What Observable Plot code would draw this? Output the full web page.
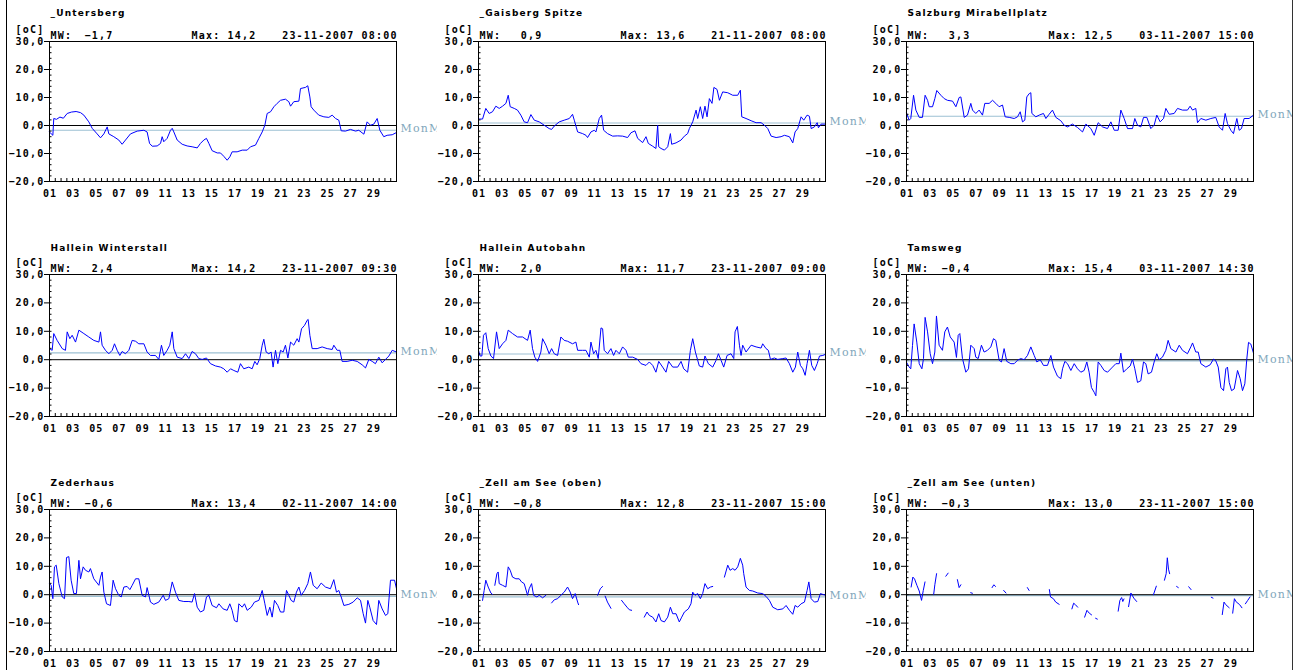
<!DOCTYPE html>
<html><head><meta charset="utf-8">
<script src="https://cdn.jsdelivr.net/npm/d3@7"></script>
<script src="https://cdn.jsdelivr.net/npm/@observablehq/plot@0.6"></script>
<style>
html,body{margin:0;padding:0;background:#fff;width:1299px;height:670px;overflow:hidden;}
#chart{position:relative;width:1299px;height:670px;}
#border{position:absolute;left:6px;top:0;width:1285px;height:670px;border-left:1.5px solid #000;border-right:1.5px solid #333;pointer-events:none;}
</style></head><body><div id="chart"></div><div id="border"></div><script>
// ---- station metadata ----
const stations = ["_Untersberg","_Gaisberg Spitze","Salzburg Mirabellplatz","Hallein Winterstall","Hallein Autobahn","Tamsweg","Zederhaus","_Zell am See (oben)","_Zell am See (unten)"];
const monthlyMeans = [-1.7, 0.9, 3.3, 2.4, 2.0, -0.4, -0.6, -0.8, -0.3];
const maxValues = [14.2, 13.6, 12.5, 14.2, 11.7, 15.4, 13.4, 12.8, 13.0];
const maxTimes = ["23-11-2007 08:00","21-11-2007 08:00","03-11-2007 15:00","23-11-2007 09:30","23-11-2007 09:00","03-11-2007 14:30","02-11-2007 14:00","23-11-2007 15:00","23-11-2007 15:00"];
const dayTickValues = [1,3,5,7,9,11,13,15,17,19,21,23,25,27,29];
const yTickValues = [-20,-10,0,10,20,30];
const meanLabel = "MonM";

// ---- temperature series: [day of November (fractional), °C] ----
const untersberg = [[1.00,-2.3],[1.15,-3.0],[1.29,-3.5],[1.37,2.5],[1.6,2.2],[1.9,3.0],[2.2,2.6],[2.53,4.3],[2.9,4.8],[3.3,5.0],[3.68,4.6],[3.97,3.7],[4.4,1.3],[4.69,-1.0],[5.12,-3.0],[5.41,-4.4],[5.7,-3.0],[5.99,-0.5],[6.13,-3.0],[6.56,-4.0],[6.99,-5.2],[7.28,-6.7],[7.57,-5.2],[8.0,-3.0],[8.58,-2.0],[9.16,-1.7],[9.44,-2.3],[9.65,-6.4],[9.88,-7.4],[10.31,-7.3],[10.6,-6.4],[10.74,-4.0],[10.88,-5.8],[11.17,-4.6],[11.46,-1.7],[11.61,-1.0],[11.75,-2.3],[12.04,-5.2],[12.47,-6.7],[12.9,-7.3],[13.33,-7.6],[13.77,-8.0],[14.05,-6.4],[14.34,-5.2],[14.57,-4.6],[14.78,-6.4],[15.06,-9.0],[15.5,-9.8],[15.78,-9.8],[16.07,-11.0],[16.36,-12.4],[16.59,-11.2],[16.79,-9.4],[17.22,-9.4],[17.66,-8.8],[18.09,-8.8],[18.38,-7.6],[18.81,-7.0],[19.1,-4.6],[19.39,-2.3],[19.62,0.1],[19.82,4.3],[20.11,4.9],[20.4,6.7],[20.68,7.9],[20.97,9.0],[21.4,9.4],[21.69,8.5],[21.84,6.9],[22.12,8.5],[22.56,8.7],[22.7,13.2],[23.13,13.6],[23.33,14.2],[23.51,10.2],[23.62,6.7],[23.85,5.5],[24.28,3.7],[24.72,3.1],[25.15,2.9],[25.44,3.7],[25.73,2.5],[26.01,1.9],[26.22,-1.9],[26.59,-2.0],[27.02,-1.4],[27.46,-2.0],[27.74,-1.7],[28.18,-3.1],[28.46,1.3],[28.75,0.1],[29.04,0.5],[29.33,2.5],[29.56,-1.7],[29.9,-4.0],[30.19,-3.5],[30.63,-3.3],[31.0,-2.5]];
const gaisberg = [[1.0,2.3],[1.35,2.3],[1.63,6.1],[1.92,4.3],[2.21,4.9],[2.5,6.9],[2.79,6.1],[3.08,6.9],[3.37,7.9],[3.57,10.8],[3.74,6.7],[4.09,6.1],[4.37,5.5],[4.66,3.7],[4.95,1.3],[5.24,1.0],[5.53,3.9],[5.82,1.9],[6.25,1.3],[6.68,0.1],[7.11,-1.1],[7.32,-1.4],[7.55,-0.2],[7.98,1.3],[8.41,1.9],[8.85,2.5],[9.13,4.0],[9.28,1.9],[9.57,-2.3],[10.0,-2.9],[10.29,-3.5],[10.43,-4.3],[10.72,-2.3],[11.01,-1.7],[11.15,-2.3],[11.44,2.5],[11.64,3.7],[11.82,-1.7],[12.16,-2.9],[12.6,-3.8],[13.03,-3.7],[13.46,-3.8],[13.89,-4.3],[14.18,-2.6],[14.53,-1.9],[14.76,-4.6],[15.19,-6.1],[15.48,-4.0],[15.68,-6.4],[16.06,-7.4],[16.34,-8.2],[16.49,0.1],[16.58,-7.6],[16.78,-8.2],[17.07,-8.8],[17.36,-7.6],[17.59,-2.9],[17.7,-6.7],[18.08,-6.2],[18.51,-5.2],[18.8,-3.8],[19.08,-2.9],[19.23,-1.1],[19.52,1.3],[19.81,5.5],[19.95,2.5],[20.18,6.7],[20.38,2.5],[20.58,6.9],[20.76,3.1],[20.96,9.6],[21.19,7.9],[21.35,13.6],[21.62,12.9],[21.83,9.0],[22.11,12.0],[22.55,11.7],[22.98,10.8],[23.41,10.8],[23.64,12.6],[23.76,3.1],[24.13,2.5],[24.57,1.7],[25.0,1.0],[25.43,1.0],[25.72,0.1],[26.01,-1.1],[26.3,-3.8],[26.73,-4.3],[27.16,-4.0],[27.45,-3.5],[27.88,-4.0],[28.17,-6.2],[28.37,-2.3],[28.6,-1.1],[28.89,3.1],[29.12,1.9],[29.41,3.7],[29.61,3.3],[29.76,-1.1],[30.04,-0.5],[30.28,1.0],[30.39,-0.8],[30.62,0.5],[31.0,0.5]];
const mirabellplatz = [[1.0,4.5],[1.23,1.9],[1.37,2.5],[1.61,10.8],[1.81,5.5],[2.1,2.9],[2.38,2.9],[2.61,10.8],[2.82,9.0],[2.96,6.7],[3.25,6.7],[3.45,9.6],[3.62,12.5],[3.97,10.8],[4.26,9.6],[4.54,9.0],[4.98,8.7],[5.27,6.7],[5.55,10.0],[5.7,10.2],[5.99,2.9],[6.27,3.7],[6.56,7.9],[6.71,5.5],[6.99,4.3],[7.28,5.5],[7.57,3.7],[7.77,7.9],[8.15,7.9],[8.44,9.0],[8.72,7.9],[9.01,6.7],[9.3,7.3],[9.53,3.1],[9.88,2.9],[10.31,2.5],[10.6,3.1],[10.83,4.9],[11.03,1.3],[11.23,1.9],[11.4,10.2],[11.61,11.4],[11.75,11.7],[11.84,4.3],[12.18,3.1],[12.47,3.7],[12.84,4.3],[13.05,2.5],[13.33,4.0],[13.62,5.5],[13.91,2.9],[14.34,1.7],[14.63,0.1],[14.92,-0.5],[15.35,0.5],[15.78,-0.7],[16.22,-2.3],[16.51,0.5],[16.94,-1.1],[17.23,-3.5],[17.57,1.0],[17.95,-0.5],[18.38,-1.1],[18.67,1.3],[18.96,-1.7],[19.3,-1.7],[19.53,5.5],[19.82,2.5],[20.11,-1.1],[20.54,-1.1],[20.74,2.5],[20.97,0.1],[21.26,-0.5],[21.49,2.9],[21.78,2.9],[22.12,-1.1],[22.41,0.1],[22.64,3.7],[22.93,1.3],[23.22,2.5],[23.42,6.1],[23.71,4.0],[24.14,4.3],[24.43,6.1],[24.86,5.5],[25.29,5.5],[25.52,6.9],[25.73,5.5],[26.01,6.1],[26.16,1.0],[26.45,2.5],[26.88,1.9],[27.31,2.5],[27.74,2.9],[28.03,-0.5],[28.32,-1.7],[28.55,4.3],[28.75,0.7],[29.04,-1.7],[29.27,-2.9],[29.56,2.5],[29.76,-1.7],[29.96,-1.1],[30.19,2.5],[30.62,2.5],[31.0,3.7]];
const winterstall = [[1.0,3.9],[1.23,3.3],[1.37,9.2],[1.66,6.8],[2.1,3.9],[2.38,3.3],[2.53,9.8],[2.76,7.4],[2.96,8.6],[3.25,6.2],[3.54,10.4],[3.97,9.2],[4.4,8.0],[4.83,6.8],[5.27,6.2],[5.41,9.8],[5.55,5.1],[5.84,3.3],[6.13,2.1],[6.42,3.3],[6.62,5.6],[6.85,3.3],[7.08,1.5],[7.28,2.9],[7.57,2.1],[7.86,3.3],[8.15,6.8],[8.44,6.5],[8.72,5.6],[9.16,5.6],[9.44,2.7],[9.73,1.5],[10.16,1.5],[10.45,0.1],[10.68,5.1],[10.88,1.5],[11.17,3.3],[11.4,5.1],[11.61,9.8],[11.75,3.9],[12.04,0.9],[12.47,0.4],[12.76,2.1],[13.05,0.4],[13.33,2.9],[13.62,2.1],[13.91,0.4],[14.2,0.1],[14.57,0.6],[14.92,-1.4],[15.35,-2.2],[15.78,-2.6],[16.07,-3.2],[16.36,-4.4],[16.65,-3.2],[16.94,-3.8],[17.28,-4.4],[17.51,-1.4],[17.8,-3.2],[18.23,-2.6],[18.52,-3.2],[18.75,-0.6],[18.95,-1.8],[19.18,0.4],[19.39,5.1],[19.53,7.2],[19.73,2.7],[19.96,2.1],[20.16,2.7],[20.33,-2.6],[20.54,3.3],[20.74,-1.4],[20.97,3.3],[21.2,2.7],[21.4,5.1],[21.61,0.6],[21.84,6.2],[22.12,5.1],[22.41,7.4],[22.56,6.2],[22.79,10.9],[23.05,12.1],[23.28,13.9],[23.36,14.2],[23.51,8.6],[23.71,3.9],[24.14,3.9],[24.57,4.5],[25.01,3.9],[25.44,3.6],[25.58,5.1],[25.87,3.3],[26.1,3.3],[26.3,-0.6],[26.73,-0.6],[27.17,-0.2],[27.6,-0.6],[28.03,-1.8],[28.32,-2.9],[28.61,0.1],[28.9,-0.6],[29.18,-1.4],[29.47,0.9],[29.76,-1.1],[30.05,0.1],[30.34,1.3],[30.63,3.3],[31.0,2.7]];
const autobahn = [[1.0,3.3],[1.14,1.3],[1.29,1.3],[1.43,8.6],[1.63,9.5],[1.84,3.9],[2.07,1.3],[2.3,0.4],[2.56,9.8],[2.79,3.9],[3.08,5.6],[3.37,6.8],[3.57,10.4],[3.94,9.2],[4.37,8.0],[4.81,8.0],[5.24,6.8],[5.47,10.4],[5.67,3.9],[5.87,0.9],[6.11,-0.6],[6.39,2.7],[6.54,7.4],[6.83,5.1],[7.11,2.1],[7.32,3.9],[7.55,2.1],[7.84,1.5],[8.12,8.0],[8.41,6.8],[8.7,6.5],[9.13,5.6],[9.42,6.2],[9.57,3.3],[10.0,3.3],[10.29,3.3],[10.58,0.9],[10.72,6.2],[10.95,2.1],[11.15,3.3],[11.35,0.4],[11.59,11.2],[11.73,10.9],[11.87,3.3],[12.16,2.1],[12.45,3.9],[12.68,1.5],[12.88,3.3],[13.17,2.1],[13.46,4.5],[13.75,3.3],[13.95,0.9],[14.33,0.9],[14.76,0.1],[15.05,-1.4],[15.48,-2.0],[15.77,-0.8],[16.06,-2.0],[16.34,-4.4],[16.58,-0.6],[16.92,-2.6],[17.21,-4.4],[17.44,-0.6],[17.79,-2.6],[18.22,-2.6],[18.51,-0.6],[18.74,-3.2],[19.08,-4.4],[19.32,3.3],[19.52,7.4],[19.75,2.7],[20.09,-2.2],[20.38,-2.6],[20.58,1.3],[20.87,-1.4],[21.25,-2.6],[21.54,-0.2],[21.74,2.1],[21.97,-0.2],[22.2,-2.6],[22.49,1.5],[22.83,2.1],[23.07,0.4],[23.18,9.8],[23.38,11.7],[23.56,5.1],[23.7,1.5],[23.84,5.1],[24.13,2.7],[24.57,5.1],[25.0,4.5],[25.43,4.1],[25.57,5.6],[25.86,3.9],[26.06,3.3],[26.24,0.1],[26.58,0.6],[26.87,0.1],[27.31,0.4],[27.59,0.6],[27.88,-1.4],[28.17,-4.4],[28.4,-2.6],[28.6,2.7],[28.83,-2.0],[29.04,-3.2],[29.24,-5.5],[29.41,-1.4],[29.61,3.3],[29.81,-2.0],[30.04,-3.8],[30.28,-1.4],[30.48,1.3],[30.77,1.5],[31.0,1.9]];
const tamsweg = [[1.0,-0.9],[1.23,-2.6],[1.37,-3.2],[1.52,5.0],[1.66,12.6],[1.89,6.2],[2.1,-1.4],[2.33,-3.2],[2.47,0.4],[2.61,14.9],[2.82,9.8],[3.05,2.1],[3.25,-1.4],[3.45,2.7],[3.59,15.4],[3.82,5.1],[4.11,3.3],[4.31,9.8],[4.54,11.5],[4.78,8.0],[5.12,6.2],[5.32,0.8],[5.47,8.6],[5.61,9.2],[5.84,0.4],[6.13,-4.4],[6.36,-3.2],[6.56,5.1],[6.85,3.9],[6.99,0.9],[7.2,0.4],[7.48,5.1],[7.71,2.7],[8.0,3.3],[8.29,4.5],[8.52,7.4],[8.72,6.8],[9.01,-0.2],[9.21,-0.8],[9.44,3.9],[9.67,-0.6],[10.02,-1.4],[10.31,-1.4],[10.6,-0.2],[10.88,0.4],[11.17,0.0],[11.46,1.5],[11.75,4.5],[12.04,1.5],[12.27,-0.8],[12.56,0.0],[12.84,-2.0],[13.19,-2.0],[13.48,1.5],[13.71,-2.6],[14.05,-5.8],[14.34,-6.7],[14.49,-3.2],[14.69,-0.6],[14.92,-1.4],[15.21,-3.8],[15.5,-1.4],[15.78,-3.2],[16.07,-4.4],[16.36,-3.8],[16.59,-0.8],[16.79,-4.4],[16.99,-9.8],[17.23,-11.5],[17.37,-12.7],[17.57,-0.8],[17.8,-2.0],[18.09,-3.8],[18.38,-4.4],[18.81,-2.6],[19.1,-1.4],[19.39,-1.4],[19.53,2.3],[19.76,-4.4],[20.05,-3.2],[20.34,-2.2],[20.54,0.2],[20.74,-3.2],[20.97,-8.0],[21.26,-7.4],[21.49,-0.8],[21.69,-1.4],[21.89,-5.0],[22.18,-4.4],[22.41,-0.8],[22.64,2.1],[22.84,0.0],[23.13,0.9],[23.42,3.3],[23.62,6.8],[23.85,3.9],[24.29,2.7],[24.58,5.1],[24.86,3.3],[25.29,2.1],[25.58,4.5],[25.73,5.9],[26.01,2.7],[26.22,2.7],[26.45,-1.4],[26.88,-2.6],[27.25,-1.8],[27.54,0.2],[27.74,-0.4],[27.95,-2.6],[28.18,-9.8],[28.41,-10.9],[28.61,-3.2],[28.75,-2.6],[28.9,-8.0],[29.1,-10.9],[29.33,-10.3],[29.62,-3.8],[29.85,-6.7],[30.05,-10.9],[30.25,-8.5],[30.42,0.2],[30.57,6.1],[30.77,5.5],[31.0,2.3]];
const zederhaus = [[1.0,3.9],[1.14,3.3],[1.29,-1.4],[1.43,9.8],[1.58,10.4],[1.81,3.9],[2.1,-0.8],[2.3,-1.4],[2.47,13.1],[2.67,13.4],[2.87,5.1],[3.1,0.4],[3.33,0.4],[3.54,12.1],[3.68,5.6],[3.91,9.8],[4.11,8.6],[4.4,8.0],[4.54,9.2],[4.83,5.6],[5.27,3.3],[5.41,6.2],[5.55,8.0],[5.7,0.9],[5.93,-3.2],[6.27,-3.8],[6.5,5.1],[6.71,2.1],[6.99,-0.2],[7.2,-0.8],[7.43,2.7],[7.71,2.9],[7.95,1.8],[8.15,3.3],[8.44,5.6],[8.72,5.6],[9.01,-0.2],[9.3,-0.8],[9.44,2.5],[9.73,-2.6],[10.02,-3.4],[10.45,-2.6],[10.83,-0.2],[11.03,-2.0],[11.32,-1.4],[11.61,4.5],[11.89,0.9],[12.18,-2.0],[12.61,-2.4],[13.05,-2.4],[13.33,-2.6],[13.54,0.4],[13.77,-4.4],[14.05,-6.1],[14.34,-5.5],[14.57,-0.8],[14.78,-0.2],[15.06,-3.8],[15.44,-4.6],[15.64,-3.2],[16.01,-5.0],[16.36,-5.5],[16.59,-3.2],[16.79,-5.5],[16.99,-9.1],[17.22,-9.6],[17.37,-3.2],[17.66,-4.4],[17.86,-3.2],[18.09,-5.5],[18.44,-4.4],[18.72,-2.6],[19.1,-2.0],[19.39,1.5],[19.62,-3.2],[19.82,-7.3],[20.05,-4.4],[20.25,-7.9],[20.45,-2.0],[20.74,-3.8],[20.97,-6.1],[21.26,-6.1],[21.49,1.5],[21.69,-0.2],[21.89,-2.0],[22.12,-2.6],[22.35,0.9],[22.56,2.7],[22.76,-0.2],[23.05,1.5],[23.33,3.9],[23.56,8.0],[23.8,3.3],[24.14,2.1],[24.49,4.1],[24.86,2.7],[25.29,2.1],[25.58,5.3],[25.81,0.9],[26.01,1.5],[26.22,-0.8],[26.45,-3.8],[26.88,-3.4],[27.25,-2.6],[27.6,-1.1],[27.89,-2.0],[28.12,-6.7],[28.32,-10.0],[28.52,-2.0],[28.69,-4.4],[28.98,-9.1],[29.27,-10.5],[29.47,-2.0],[29.76,-5.0],[30.05,-7.3],[30.25,-6.7],[30.48,5.1],[30.83,5.1],[31.0,2.1]];
const zellOben = [[1.35,-2.0],[1.49,1.5],[1.63,5.1],[1.84,2.7],[2.07,0.6],[2.21,0.1],[2.3,null],[2.41,3.3],[2.59,7.4],[2.7,8.0],[2.79,3.9],[3.08,3.3],[3.37,2.7],[3.57,9.8],[3.74,8.6],[3.94,6.2],[4.23,5.6],[4.52,5.6],[4.72,4.5],[4.95,3.9],[5.24,-0.2],[5.38,2.1],[5.59,3.9],[5.76,-0.2],[6.05,-0.8],[6.25,-0.2],[6.54,-1.1],[6.83,-0.2],[7.0,null],[7.32,-2.9],[7.55,-1.8],[7.84,-1.4],[8.12,-0.2],[8.41,0.9],[8.7,2.7],[8.93,0.9],[9.13,-1.4],[9.36,0.4],[9.57,-2.6],[9.65,-3.5],[9.8,null],[11.3,-0.2],[11.53,2.1],[11.73,2.9],[11.85,null],[11.95,-0.5],[12.15,-2.6],[12.45,-4.8],[12.6,null],[13.37,-2.0],[13.6,-3.2],[13.84,-4.4],[14.04,-5.3],[14.24,-5.5],[14.4,null],[15.33,-7.9],[15.57,-6.1],[15.77,-7.3],[16.06,-7.9],[16.34,-9.6],[16.58,-6.7],[16.78,-9.1],[17.07,-9.6],[17.36,-7.9],[17.59,-4.4],[17.79,-6.7],[18.08,-6.7],[18.36,-9.6],[18.57,-7.9],[18.8,-6.1],[19.14,-5.0],[19.37,-3.2],[19.52,0.9],[19.72,-0.2],[19.95,0.4],[20.18,-1.4],[20.38,0.4],[20.58,3.9],[20.82,2.1],[21.05,2.7],[21.25,2.9],[21.5,null],[22.26,6.2],[22.55,10.4],[22.75,8.6],[22.98,9.2],[23.18,8.6],[23.41,9.8],[23.64,12.8],[23.84,10.4],[23.93,7.4],[24.13,2.7],[24.42,1.5],[24.71,1.3],[25.14,0.6],[25.57,0.4],[25.86,-0.6],[26.15,-2.0],[26.44,-4.4],[26.87,-5.3],[27.31,-5.0],[27.59,-3.8],[27.88,-5.5],[28.17,-6.9],[28.37,-3.8],[28.6,-4.4],[28.89,-3.2],[29.18,-2.6],[29.41,1.5],[29.56,4.5],[29.76,-1.4],[30.04,-2.6],[30.33,-2.4],[30.56,0.4],[30.77,0.1],[31.0,-0.2]];
const zellUnten = [[1.4,2.7],[1.55,6.2],[1.7,5.5],[1.9,3.3],[2.1,1.3],[2.3,-2.0],[2.45,1.5],[2.6,4.5],[2.65,null],[3.35,0.1],[3.45,3.5],[3.6,7.4],[3.65,null],[4.4,6.5],[4.6,7.6],[4.65,null],[5.4,5.3],[5.55,2.5],[5.7,3.5],[5.75,null],[6.55,0.7],[6.7,0.5],[6.75,null],[8.4,2.5],[8.55,3.5],[8.7,2.9],[8.75,null],[9.4,1.5],[9.6,0.6],[9.65,null],[11.45,2.5],[11.6,1.5],[11.65,null],[13.35,1.8],[13.45,-0.8],[13.7,-1.4],[13.9,-2.6],[14.2,-3.4],[14.25,null],[15.3,-5.0],[15.45,-3.0],[15.6,-3.5],[15.8,-4.4],[15.85,null],[16.4,-7.9],[16.6,-5.5],[16.8,-6.5],[17.0,-7.1],[17.05,null],[17.35,-8.3],[17.5,-8.6],[17.55,null],[19.3,-5.8],[19.45,-2.0],[19.6,-1.0],[19.7,-2.4],[19.8,-1.5],[19.85,null],[20.2,-4.2],[20.4,0.6],[20.65,-1.2],[20.9,-2.4],[20.95,null],[22.35,0.0],[22.6,3.0],[22.65,null],[23.3,5.1],[23.45,7.4],[23.55,13.0],[23.65,9.0],[23.75,7.4],[23.8,null],[24.35,2.9],[24.5,2.5],[24.55,null],[25.4,2.8],[25.6,1.8],[25.65,null],[27.35,-0.9],[27.5,-1.2],[27.55,null],[28.3,-7.0],[28.45,-2.6],[28.6,-3.5],[28.9,-4.6],[28.95,null],[29.2,-6.5],[29.35,-1.4],[29.5,-2.5],[29.8,-3.5],[30.0,-4.6],[30.05,null],[30.3,-3.2],[30.5,-2.0],[30.7,-0.8]];
const allSeries = [untersberg, gaisberg, mirabellplatz, winterstall, autobahn, tamsweg, zederhaus, zellOben, zellUnten];

// ---- layout ----
const colLeft = [0, 437, 866], colWidth = [437, 429, 426], colMarginLeft = [49, 41, 40];
const rowTop = [0, 235, 470], rowHeight = [235, 235, 200], rowMarginTop = [41, 39, 39], rowPlotH = [140, 142, 142];
const plotW = 347;
const fmt = v => v.toFixed(1).replace(".", ",").replace("-", "\u2212");
const pad2 = d => String(d).padStart(2, "0");
const halfDays = d3.range(1, 31.01, 0.5);
const minorY = d3.range(-20, 30.01, 2);
const chart = document.getElementById("chart");

stations.forEach((name, i) => {
  const c = i % 3, r = Math.floor(i / 3);
  const ph = rowPlotH[r];
  const mw = monthlyMeans[i];
  const hdr = {frameAnchor: "top-left", dy: -5.6, lineAnchor: "middle"};
  const svg = Plot.plot({
    width: colWidth[c], height: rowHeight[r],
    marginLeft: colMarginLeft[c], marginRight: colWidth[c] - colMarginLeft[c] - plotW,
    marginTop: rowMarginTop[r], marginBottom: rowHeight[r] - rowMarginTop[r] - ph,
    x: {domain: [1, 31], label: null},
    y: {domain: [-20, 30], label: null},
    marks: [
      Plot.ruleY([mw], {stroke: "#9dc0d3", strokeWidth: 1.2}),
      Plot.ruleY([0], {stroke: "#000", strokeWidth: 1}),
      Plot.line(allSeries[i], {x: d => d[0], y: d => d[1], stroke: "#0000ff", strokeWidth: 1}),
      Plot.frame({stroke: "#000", strokeWidth: 1}),
      Plot.tickX(halfDays, {x: d => d, insetTop: ph - 3, stroke: "#000"}),
      Plot.tickY(minorY, {y: d => d, insetRight: plotW - 2.5, stroke: "#000"}),
      Plot.axisY({ticks: yTickValues, tickFormat: fmt, tickSize: 5, tickPadding: 0, label: null}),
      Plot.axisX({ticks: dayTickValues, tickFormat: pad2, tickSize: 0, tickPadding: 8, label: null, dx: 0.6}),
      Plot.text([name], {frameAnchor: "top-left", dx: 1, dy: r === 0 ? -28 : -26.5, lineAnchor: "middle", textAnchor: "start", fontFamily: "DejaVu Sans", fontSize: 9, fontWeight: "bold", ariaLabel: "title"}),
      Plot.text(["[oC]"], {frameAnchor: "top-left", dx: -34, dy: -12, lineAnchor: "middle", textAnchor: "start"}),
      Plot.text(["MW:"], {...hdr, dx: 1, textAnchor: "start"}),
      Plot.text([fmt(mw)], {...hdr, dx: 64, textAnchor: "end"}),
      Plot.text(["Max:"], {...hdr, dx: 142, textAnchor: "start"}),
      Plot.text([fmt(maxValues[i])], {...hdr, dx: 207, textAnchor: "end"}),
      Plot.text([maxTimes[i]], {frameAnchor: "top-right", dy: -5.6, dx: 1.2, lineAnchor: "middle", textAnchor: "end"}),
      Plot.text([mw], {y: d => d, frameAnchor: "right", dx: 4, dy: -1.5, lineAnchor: "middle", textAnchor: "start", text: () => meanLabel, fill: "#7fa7bc", fontFamily: "DejaVu Serif", fontSize: 11, fontWeight: "normal", ariaLabel: "monmw"})
    ]
  });
  Object.assign(svg.style, {
    position: "absolute", left: colLeft[c] + "px", top: rowTop[r] + "px",
    background: "transparent", overflow: "visible",
    clipPath: "inset(-80px 0px -80px -80px)",
    fontFamily: "'DejaVu Sans Mono', monospace", fontWeight: "bold",
    fontSize: "10px", letterSpacing: "1.2px", maxWidth: "none"
  });
  d3.select(svg).selectAll('g[aria-label="title"]').attr("letter-spacing", "0.7px");
  d3.select(svg).selectAll('g[aria-label="monmw"]').attr("letter-spacing", "0px");
  chart.appendChild(svg);
});
</script></body></html>
